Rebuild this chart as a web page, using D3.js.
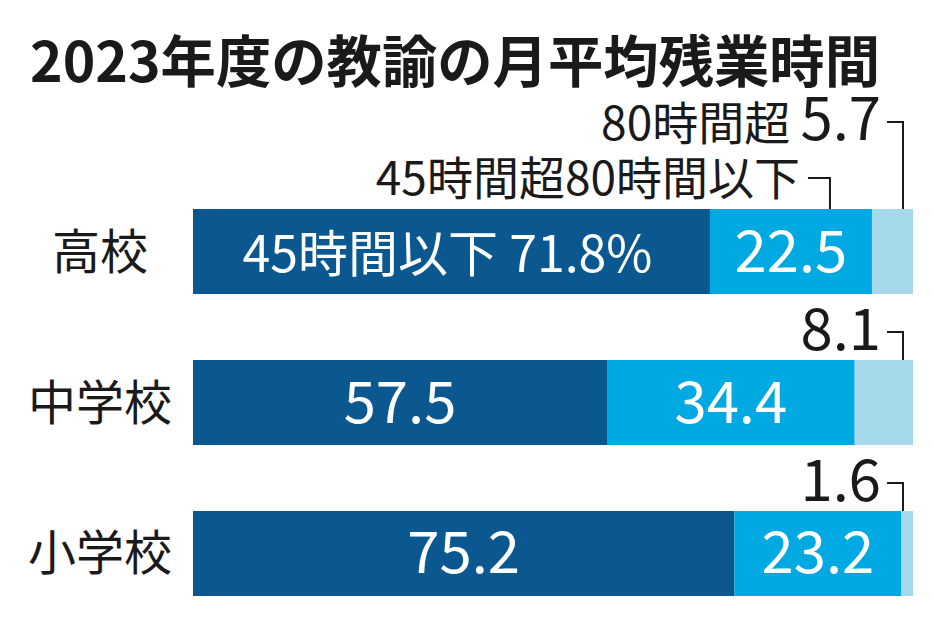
<!DOCTYPE html>
<html><head><meta charset="utf-8">
<script src="https://cdn.jsdelivr.net/npm/d3@7"></script>
<style>
html,body{margin:0;padding:0;background:#fff;}
text{font-family:"Noto Sans CJK JP","Noto Sans",sans-serif;}
</style>
</head><body>
<svg id="c" width="934" height="618"></svg>
<script>
const title = "2023年度の教諭の月平均残業時間";
const categories = ["高校", "中学校", "小学校"];
const seriesNames = ["45時間以下", "45時間超80時間以下", "80時間超"];
const under45 = [71.8, 57.5, 75.2];
const from45to80 = [22.5, 34.4, 23.2];
const over80 = [5.7, 8.1, 1.6];
const colors = ["#0b5890", "#00a9e2", "#a6d9ec"];

const svg = d3.select("#c");
const x = d3.scaleLinear().domain([0, 100]).range([193, 913]);
const y = d3.scaleBand().domain(categories).range([209, 596]).paddingInner(0.437).paddingOuter(0);

svg.append("text").attr("x", 30).attr("y", 82).attr("font-size", 56).attr("font-weight", 700)
  .attr("fill", "#1a1a1a").attr("textLength", 850).attr("lengthAdjust", "spacingAndGlyphs").text(title);

const rows = categories.map((c, i) => {
  const vals = [under45[i], from45to80[i], over80[i]];
  let cum = 0;
  return {cat: c, segs: vals.map((v, k) => { const s = {k, v, x0: cum, x1: cum + v}; cum += v; return s; })};
});

// category labels
svg.selectAll("text.cat").data(categories).enter().append("text").attr("class", "cat")
  .attr("x", 100).attr("y", d => y(d) + y.bandwidth() / 2 + 17)
  .attr("text-anchor", "middle").attr("font-size", 48).attr("fill", "#1a1a1a").text(d => d);

const g = svg.selectAll("g.row").data(rows).enter().append("g").attr("class", "row");
g.selectAll("rect").data(d => d.segs.map(s => ({...s, cat: d.cat}))).enter().append("rect")
  .attr("x", d => x(d.x0)).attr("y", d => y(d.cat))
  .attr("width", d => x(d.x1) - x(d.x0)).attr("height", y.bandwidth())
  .attr("fill", d => colors[d.k]);

// inside labels
rows.forEach((r, i) => {
  const cy = y(r.cat) + y.bandwidth() / 2 + 20;
  const s0 = r.segs[0], s1 = r.segs[1];
  svg.append("text").attr("x", (x(s0.x0) + x(s0.x1)) / 2 - (i === 0 ? 4 : 0)).attr("y", cy)
    .attr("text-anchor", "middle").attr("font-size", i === 0 ? 50 : 58).attr("fill", "#fff")
    .text(i === 0 ? seriesNames[0] + " " + s0.v.toFixed(1) + "%" : s0.v.toFixed(1));
  svg.append("text").attr("x", (x(s1.x0) + x(s1.x1)) / 2).attr("y", cy)
    .attr("text-anchor", "middle").attr("font-size", 58).attr("fill", "#fff").text(s1.v.toFixed(1));
});

// annotations for light segment
const line = d3.line();
rows.forEach((r, i) => {
  const top = y(r.cat);
  const lx = x(100) - 10;
  const hy = i === 0 ? 122 : top - 28;
  svg.append("path").attr("d", line([[lx - 16, hy], [lx, hy], [lx, top]]))
    .attr("fill", "none").attr("stroke", "#1a1a1a").attr("stroke-width", 2);
  const t = svg.append("text").attr("x", lx - 22).attr("y", hy + 18).attr("text-anchor", "end").attr("fill", "#1a1a1a");
  if (i === 0) {
    t.append("tspan").attr("font-size", 46).text(seriesNames[2] + " ");
    t.append("tspan").attr("font-size", 58).text(r.segs[2].v.toFixed(1));
  } else {
    t.attr("font-size", 58).text(r.segs[2].v.toFixed(1));
  }
});
// annotation for mid segment of first row
{
  const r = rows[0];
  const top = y(r.cat);
  const lx = x(r.segs[1].x1) - 42;
  const hy = 178;
  svg.append("path").attr("d", line([[lx - 22, hy], [lx, hy], [lx, top]]))
    .attr("fill", "none").attr("stroke", "#1a1a1a").attr("stroke-width", 2);
  svg.append("text").attr("x", lx - 30).attr("y", hy + 17).attr("text-anchor", "end")
    .attr("font-size", 46).attr("fill", "#1a1a1a").text(seriesNames[1]);
}
</script>
</body></html>
